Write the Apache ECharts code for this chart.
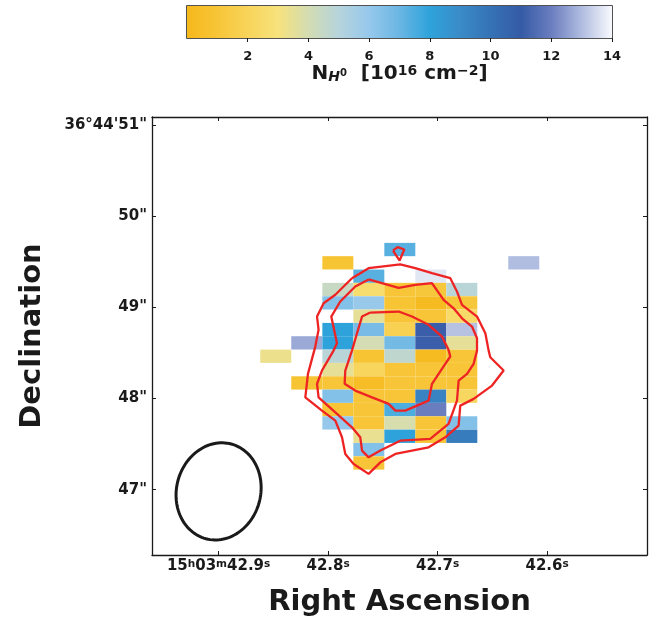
<!DOCTYPE html>
<html>
<head>
<meta charset="utf-8">
<script src="https://cdn.jsdelivr.net/npm/echarts@6/dist/echarts.min.js"></script>
<style>
  html, body { margin: 0; padding: 0; background: #fff; }
  #chart { width: 659px; height: 620px; }
</style>
</head>
<body>
<div id="chart"></div>
<script>
// Spaxel centres: RA in seconds of 15h03m, Dec in arcsec of +36°44'
const raCenters = [42.8478, 42.8195, 42.7911, 42.7628, 42.7345, 42.7062, 42.6779, 42.6496, 42.6213];
const decCenters = [49.637, 49.491, 49.344, 49.198, 49.051, 48.905, 48.758, 48.612, 48.465,
                    48.319, 48.172, 48.026, 47.879, 47.733, 47.586, 47.440, 47.293];

// N(H0) in units of 1e16 cm^-2; one row per Dec centre (north to south), null = masked
const columnDensity = [
  [null, null, null, null, 7.3,  null, null, null, null],
  [null, null, 0.9,  null, null, null, null, null, 13.0],
  [null, null, null, 7.3,  null, 13.7, null, null, null],
  [null, null, 4.4,  2.6,  1.0,  1.1,  4.9,  null, null],
  [null, null, 6.4,  5.9,  0.9,  0.2,  1.1,  null, null],
  [null, null, null, 3.5,  1.0,  1.0,  2.4,  null, null],
  [null, null, 8.0,  6.7,  1.8,  11.1, 13.1, null, null],
  [null, 12.7, 8.0,  4.0,  6.8,  11.1, 3.5,  null, null],
  [3.3,  null, 4.9,  0.9,  4.7,  0.2,  1.0,  null, null],
  [null, null, 3.5,  2.1,  1.0,  1.0,  1.0,  null, null],
  [null, 0.9,  1.0,  0.4,  1.0,  1.0,  1.0,  null, null],
  [null, null, 6.4,  1.0,  1.0,  9.3,  2.2,  null, null],
  [null, null, 1.0,  1.0,  7.5,  12.0, null, null, null],
  [null, null, 6.0,  1.0,  3.9,  1.0,  6.4,  null, null],
  [null, null, null, 3.4,  8.0,  1.0,  9.6,  null, null],
  [null, null, null, 6.4,  null, null, null, null, null],
  [null, null, null, 1.0,  null, null, null, null, null]
];

// Colour map sampled at N = 0, 1, ..., 14
const colormap = ['#f6b81c', '#f7c537', '#f8d45a', '#f7e27c', '#d3dcb2', '#b6d4dc', '#96c8ec',
                  '#6ab6e3', '#2ea3db', '#3a8bc7', '#3572b6', '#355ba6', '#6a7dbf', '#b0bce0', '#f8fafd'];
const cbarMin = 0, cbarMax = 14;
const cbarTicks = [2, 4, 6, 8, 10, 12, 14];

// Emission contours, [RA s, Dec arcsec]
const contourOuter = [
  [42.7782, 49.322], [42.7630, 49.432], [42.7341, 49.473], [42.7204, 49.432], [42.7051, 49.377],
  [42.6884, 49.322], [42.6823, 49.176], [42.6777, 49.030], [42.6640, 48.901], [42.6564, 48.718],
  [42.6534, 48.527], [42.6519, 48.454], [42.6397, 48.308], [42.6503, 48.143], [42.6671, 47.997],
  [42.6793, 47.923], [42.6808, 47.703], [42.6930, 47.575], [42.7082, 47.465], [42.7386, 47.392],
  [42.7523, 47.300], [42.7630, 47.173], [42.7767, 47.282], [42.7843, 47.392], [42.7873, 47.575],
  [42.7934, 47.758], [42.8056, 47.868], [42.8208, 48.014], [42.8184, 48.271], [42.8117, 48.571],
  [42.8087, 48.755], [42.8101, 48.901], [42.8041, 49.047], [42.7934, 49.140]
];
const contourMiddle = [
  [42.7630, 49.308], [42.7356, 49.216], [42.7204, 49.249], [42.7051, 49.267], [42.6945, 49.085],
  [42.6854, 48.992], [42.6777, 48.882], [42.6686, 48.791], [42.6640, 48.663], [42.6640, 48.527],
  [42.6671, 48.381], [42.6731, 48.271], [42.6808, 48.198], [42.6823, 47.978], [42.6900, 47.722],
  [42.7067, 47.557], [42.7341, 47.538], [42.7523, 47.429], [42.7630, 47.355], [42.7690, 47.429],
  [42.7706, 47.575], [42.7782, 47.685], [42.7934, 47.849], [42.8087, 48.014], [42.8101, 48.162],
  [42.8056, 48.308], [42.7950, 48.527], [42.7919, 48.608], [42.7971, 48.901], [42.7889, 49.066],
  [42.7752, 49.231]
];
const contourInner = [
  [42.7615, 48.945], [42.7356, 48.956], [42.7234, 48.901], [42.7082, 48.810], [42.6960, 48.681],
  [42.6900, 48.535], [42.6884, 48.462], [42.6930, 48.381], [42.7051, 48.162], [42.7082, 47.978],
  [42.7295, 47.868], [42.7386, 47.868], [42.7447, 47.942], [42.7599, 48.014], [42.7752, 48.088],
  [42.7849, 48.162], [42.7843, 48.308], [42.7782, 48.527], [42.7736, 48.718], [42.7690, 48.901]
];
const contourKnot = [
  [42.7407, 49.626], [42.7365, 49.663], [42.7304, 49.637], [42.7347, 49.516]
];

// Synthesised beam: centre RA (s), centre Dec (arcsec), FWHM major/minor (arcsec), PA (deg E of N)
const beam = [42.9, 46.981, 1.077, 0.923, -15];
const decDegrees = 36 + 44 / 60 + 49 / 3600;

// Axis ticks
const raTicks = [42.9, 42.8, 42.7, 42.6];
const decTicks = [47, 48, 49, 50, 51];

const ink = '#1a1a1a';
const font = 'DejaVu Sans';

const cellData = [];
columnDensity.forEach(function (row, j) {
  row.forEach(function (v, i) {
    if (v !== null) cellData.push([raCenters[i], decCenters[j], v]);
  });
});
const dRa = Math.abs(raCenters[1] - raCenters[0]);
const dDec = Math.abs(decCenters[0] - decCenters[1]);

function closed(pts) { return pts.concat([pts[0]]); }

function raLabel(v) {
  const s = v.toFixed(1);
  if (Math.abs(v - 42.9) < 1e-6) return '{a|15}{s|h}{a|03}{s|m}{a|' + s + '}{s|s}';
  return '{a|' + s + '}{s|s}';
}
function decLabel(v) {
  const n = Math.round(v);
  if (n === 51) return "36°44'" + n + '"';
  return n + '"';
}

const contourStyle = { color: '#ee2424', width: 2.3 };
function contourSeries(pts) {
  return {
    type: 'line', xAxisIndex: 0, yAxisIndex: 0, data: closed(pts),
    symbol: 'none', smooth: false, silent: true, z: 5,
    lineStyle: contourStyle
  };
}

const chart = echarts.init(document.getElementById('chart'), null, { renderer: 'canvas' });
const option = {
  animation: false,
  textStyle: { fontFamily: font },
  grid: [
    { left: 152, right: 12, top: 117, bottom: 65, outerBoundsMode: 'none', containLabel: false },
    { left: 187, right: 47, top: 6, height: 32, outerBoundsMode: 'none', containLabel: false,
      show: true, borderColor: ink, borderWidth: 1.5, backgroundColor: 'transparent' }
  ],
  visualMap: {
    show: false, type: 'continuous', min: cbarMin, max: cbarMax, dimension: 2, seriesIndex: 0,
    inRange: { color: colormap }
  },
  xAxis: [
    {
      type: 'value', gridIndex: 0, inverse: true, min: 42.50877, max: 42.96082,
      splitLine: { show: false },
      axisLine: { show: true, onZero: false, lineStyle: { color: ink, width: 1.3 } },
      axisTick: { show: true, inside: true, length: 4, customValues: raTicks, lineStyle: { color: ink, width: 1 } },
      axisLabel: {
        customValues: raTicks, margin: 4, formatter: raLabel,
        rich: {
          a: { fontFamily: font, fontWeight: 'bold', fontSize: 15, color: ink },
          s: { fontFamily: font, fontWeight: 'bold', fontSize: 10.5, color: ink, verticalAlign: 'top' }
        }
      },
      name: 'Right Ascension', nameLocation: 'middle', nameGap: 33,
      nameTextStyle: { fontFamily: font, fontWeight: 'bold', fontSize: 29, color: ink }
    },
    {
      type: 'value', gridIndex: 1, min: cbarMin, max: cbarMax,
      splitLine: { show: false },
      axisLine: { show: false },
      axisTick: { show: true, inside: false, length: 4, customValues: cbarTicks, lineStyle: { color: ink, width: 1 } },
      axisLabel: {
        customValues: cbarTicks, margin: 12,
        fontFamily: font, fontWeight: 'bold', fontSize: 13, color: ink
      },
      name: '{n|N}{h|H}{z|0}{n|  [10}{p|16}{n| cm}{p|−2}{n|]}',
      nameLocation: 'middle', nameGap: 25,
      nameTextStyle: {
        rich: {
          n: { fontFamily: font, fontWeight: 'bold', fontSize: 20, color: ink },
          h: { fontFamily: font, fontWeight: 'bold', fontStyle: 'italic', fontSize: 14, color: ink, verticalAlign: 'bottom' },
          z: { fontFamily: font, fontWeight: 'bold', fontSize: 10, color: ink, verticalAlign: 'middle' },
          p: { fontFamily: font, fontWeight: 'bold', fontSize: 14, color: ink, verticalAlign: 'top' }
        }
      }
    },
    {
      type: 'value', gridIndex: 0, position: 'top', inverse: true, min: 42.50877, max: 42.96082,
      splitLine: { show: false },
      axisLine: { show: true, onZero: false, lineStyle: { color: ink, width: 1.3 } },
      axisTick: { show: true, inside: true, length: 4, customValues: raTicks, lineStyle: { color: ink, width: 1 } },
      axisLabel: { show: false }
    }
  ],
  yAxis: [
    {
      type: 'value', gridIndex: 0, min: 46.2824, max: 51.0923,
      splitLine: { show: false },
      axisLine: { show: true, onZero: false, lineStyle: { color: ink, width: 1.3 } },
      axisTick: { show: true, inside: true, length: 4, customValues: decTicks, lineStyle: { color: ink, width: 1 } },
      axisLabel: {
        customValues: decTicks, margin: 5, formatter: decLabel,
        fontFamily: font, fontWeight: 'bold', fontSize: 15, color: ink
      },
      name: 'Declination', nameLocation: 'middle', nameGap: 105, nameRotate: 90,
      nameTextStyle: { fontFamily: font, fontWeight: 'bold', fontSize: 29, color: ink }
    },
    { type: 'value', gridIndex: 1, min: 0, max: 1, show: false },
    {
      type: 'value', gridIndex: 0, position: 'right', min: 46.2824, max: 51.0923,
      splitLine: { show: false },
      axisLine: { show: true, onZero: false, lineStyle: { color: ink, width: 1.3 } },
      axisTick: { show: true, inside: true, length: 4, customValues: decTicks, lineStyle: { color: ink, width: 1 } },
      axisLabel: { show: false }
    }
  ],
  series: [
    {
      // column-density spaxels
      type: 'custom', xAxisIndex: 0, yAxisIndex: 0, data: cellData, silent: true, z: 2,
      encode: { x: 0, y: 1 },
      renderItem: function (params, api) {
        const ra = api.value(0), dec = api.value(1);
        const p1 = api.coord([ra + dRa / 2, dec + dDec / 2]);
        const p2 = api.coord([ra - dRa / 2, dec - dDec / 2]);
        return {
          type: 'rect',
          shape: {
            x: Math.min(p1[0], p2[0]), y: Math.min(p1[1], p2[1]),
            width: Math.abs(p2[0] - p1[0]), height: Math.abs(p2[1] - p1[1])
          },
          style: { fill: api.visual('color') }
        };
      }
    },
    contourSeries(contourOuter),
    contourSeries(contourMiddle),
    contourSeries(contourInner),
    contourSeries(contourKnot),
    {
      // beam ellipse
      type: 'custom', xAxisIndex: 0, yAxisIndex: 0, data: [beam], silent: true, z: 6,
      encode: { x: 0, y: 1 },
      renderItem: function (params, api) {
        const ra0 = api.value(0), dec0 = api.value(1);
        const a = api.value(2) / 2, b = api.value(3) / 2;
        const pa = api.value(4) * Math.PI / 180;
        const arcsecPerSec = 15 * Math.cos(decDegrees * Math.PI / 180);
        const pts = [];
        for (let k = 0; k < 120; k++) {
          const t = 2 * Math.PI * k / 120;
          const u = a * Math.cos(t), w = b * Math.sin(t);
          const east = u * Math.sin(pa) + w * Math.cos(pa);
          const north = u * Math.cos(pa) - w * Math.sin(pa);
          pts.push(api.coord([ra0 + east / arcsecPerSec, dec0 + north]));
        }
        return {
          type: 'polygon', shape: { points: pts },
          style: { fill: 'none', stroke: ink, lineWidth: 3 }
        };
      }
    },
    {
      // colour bar
      type: 'custom', xAxisIndex: 1, yAxisIndex: 1, data: [[cbarMin, 0]], silent: true,
      renderItem: function (params, api) {
        const p0 = api.coord([cbarMin, 0]);
        const p1 = api.coord([cbarMax, 1]);
        const stops = colormap.map(function (c, i) { return { offset: i / (colormap.length - 1), color: c }; });
        return {
          type: 'rect',
          shape: { x: p0[0], y: p1[1], width: p1[0] - p0[0], height: p0[1] - p1[1] },
          style: { fill: { type: 'linear', x: 0, y: 0, x2: 1, y2: 0, colorStops: stops } }
        };
      }
    }
  ]
};
chart.setOption(option);
</script>
</body>
</html>
